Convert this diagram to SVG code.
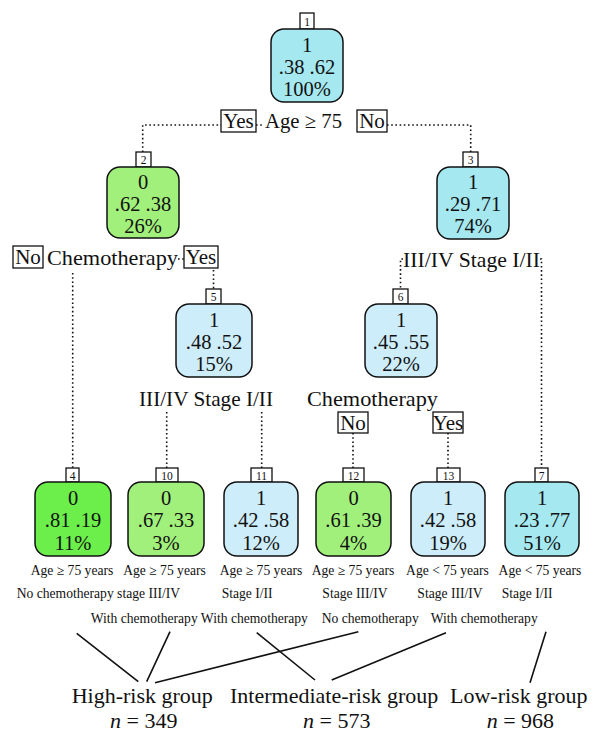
<svg xmlns="http://www.w3.org/2000/svg" width="600" height="743" viewBox="0 0 600 743">
<style>
text{font-family:"Liberation Serif","DejaVu Serif",serif;fill:#111}
.nv{font-size:20.5px;text-anchor:middle}
.sp{font-size:21px}
.lb{font-size:11.5px;text-anchor:middle}
.an{font-size:13.6px}
.ac{font-size:13.6px;text-anchor:middle}
.gr{font-size:22px}
.box{fill:#fff;stroke:#111;stroke-width:1.3}
.node{stroke:#111;stroke-width:1.5}
.cy{fill:#a5e8f0}
.lbl{fill:#cdedfa}
.lg{fill:#a2f07c}
.dg{fill:#6cef4a}
.dot{fill:none;stroke:#111;stroke-width:1.6;stroke-dasharray:1.6 2.6}
.sol{fill:none;stroke:#111;stroke-width:1.6}
</style>
<g id="connectors">
<path class="dot" d="M142.7,152 V125 H221 M256,125 H264 M387,125 H470.7 V152"/>
<path class="dot" d="M178,259 H184 M213.5,270 V289 M72.7,273 V468"/>
<path class="dot" d="M403,259 H400.5 V289 M540,259 H541.5 V468"/>
<path class="dot" d="M166.7,412 V468 M261.7,412 V468 M353,433 V468 M448,433 V468"/>
<path class="sol" d="M76.7,633.3 L138.3,681.7 M170,631.7 L146.7,681.7 M155,682.7 L358.3,631.7 M256.7,632.7 L315,680 M331.7,680 L446,632.7 M530,682.7 L546,631.7"/>
</g>
<g id="split1">
<rect class="box" x="221" y="110" width="35" height="22"/><text class="sp" x="238.5" y="128" text-anchor="middle">Yes</text>
<text class="sp" x="265" y="128" textLength="77" lengthAdjust="spacingAndGlyphs">Age ≥ 75</text>
<rect class="box" x="357" y="110" width="30" height="22"/><text class="sp" x="372" y="128" text-anchor="middle">No</text>
</g>
<g id="split2">
<rect class="box" x="13" y="246" width="30" height="22"/><text class="sp" x="28" y="264" text-anchor="middle">No</text>
<text class="sp" x="47" y="265" textLength="131" lengthAdjust="spacingAndGlyphs">Chemotherapy</text>
<rect class="box" x="184" y="246" width="34" height="22"/><text class="sp" x="201" y="264" text-anchor="middle">Yes</text>
</g>
<g id="split3"><text class="sp" x="403" y="266.5" textLength="137" lengthAdjust="spacingAndGlyphs">III/IV Stage I/II</text></g>
<g id="split5"><text class="sp" x="139" y="406" textLength="134" lengthAdjust="spacingAndGlyphs">III/IV Stage I/II</text></g>
<g id="split6">
<text class="sp" x="307" y="406" textLength="131" lengthAdjust="spacingAndGlyphs">Chemotherapy</text>
<rect class="box" x="338" y="412" width="30" height="21"/><text class="sp" x="353" y="429.5" text-anchor="middle">No</text>
<rect class="box" x="433" y="412" width="30" height="21"/><text class="sp" x="448" y="429.5" text-anchor="middle">Yes</text>
</g>
<g id="node1">
<rect class="box" x="300" y="13" width="14" height="16"/><text class="lb" x="307" y="25.5">1</text>
<rect class="node cy" x="271" y="29" width="72" height="73" rx="13"/>
<text class="nv" x="307" y="52">1</text><text class="nv" x="307" y="74">.38 .62</text><text class="nv" x="307" y="96">100%</text>
</g>
<g id="node2">
<rect class="box" x="136" y="152" width="15" height="15"/><text class="lb" x="143.5" y="164">2</text>
<rect class="node lg" x="107" y="167" width="72" height="71" rx="13"/>
<text class="nv" x="143" y="189">0</text><text class="nv" x="143" y="211">.62 .38</text><text class="nv" x="143" y="233">26%</text>
</g>
<g id="node3">
<rect class="box" x="463" y="152" width="15" height="15"/><text class="lb" x="470.5" y="164">3</text>
<rect class="node cy" x="437" y="167" width="72" height="72" rx="13"/>
<text class="nv" x="473" y="189">1</text><text class="nv" x="473" y="211">.29 .71</text><text class="nv" x="473" y="233">74%</text>
</g>
<g id="node5">
<rect class="box" x="206" y="289" width="15" height="15"/><text class="lb" x="213.5" y="301">5</text>
<rect class="node lbl" x="176" y="304" width="76" height="73" rx="13"/>
<text class="nv" x="214" y="327">1</text><text class="nv" x="214" y="349">.48 .52</text><text class="nv" x="214" y="371">15%</text>
</g>
<g id="node6">
<rect class="box" x="393" y="289" width="15" height="15"/><text class="lb" x="400.5" y="301">6</text>
<rect class="node lbl" x="365" y="304" width="72" height="73" rx="13"/>
<text class="nv" x="401" y="327">1</text><text class="nv" x="401" y="349">.45 .55</text><text class="nv" x="401" y="371">22%</text>
</g>
<g id="node4">
<rect class="box" x="66" y="468" width="13" height="14"/><text class="lb" x="72.5" y="479.5">4</text>
<rect class="node dg" x="35" y="482" width="76" height="74" rx="13"/>
<text class="nv" x="73" y="505">0</text><text class="nv" x="73" y="527">.81 .19</text><text class="nv" x="73" y="550">11%</text>
</g>
<g id="node10">
<rect class="box" x="156" y="468" width="22" height="14"/><text class="lb" x="167" y="479.5">10</text>
<rect class="node lg" x="128" y="482" width="76" height="74" rx="13"/>
<text class="nv" x="166" y="505">0</text><text class="nv" x="166" y="527">.67 .33</text><text class="nv" x="166" y="550">3%</text>
</g>
<g id="node11">
<rect class="box" x="251" y="468" width="21" height="14"/><text class="lb" x="261.5" y="479.5">11</text>
<rect class="node lbl" x="224" y="482" width="74" height="74" rx="13"/>
<text class="nv" x="261" y="505">1</text><text class="nv" x="261" y="527">.42 .58</text><text class="nv" x="261" y="550">12%</text>
</g>
<g id="node12">
<rect class="box" x="343" y="468" width="21" height="14"/><text class="lb" x="353.5" y="479.5">12</text>
<rect class="node lg" x="316" y="482" width="75" height="74" rx="13"/>
<text class="nv" x="353.5" y="505">0</text><text class="nv" x="353.5" y="527">.61 .39</text><text class="nv" x="353.5" y="550">4%</text>
</g>
<g id="node13">
<rect class="box" x="437" y="468" width="23" height="14"/><text class="lb" x="448.5" y="479.5">13</text>
<rect class="node lbl" x="411" y="482" width="74" height="74" rx="13"/>
<text class="nv" x="448" y="505">1</text><text class="nv" x="448" y="527">.42 .58</text><text class="nv" x="448" y="550">19%</text>
</g>
<g id="node7">
<rect class="box" x="535" y="468" width="13" height="14"/><text class="lb" x="541.5" y="479.5">7</text>
<rect class="node cy" x="505" y="482" width="74" height="74" rx="13"/>
<text class="nv" x="542" y="505">1</text><text class="nv" x="542" y="527">.23 .77</text><text class="nv" x="542" y="550">51%</text>
</g>
<g id="annotations">
<text class="ac" x="72" y="575">Age ≥ 75 years</text>
<text class="ac" x="164.5" y="575">Age ≥ 75 years</text>
<text class="ac" x="261" y="575">Age ≥ 75 years</text>
<text class="ac" x="353" y="575">Age ≥ 75 years</text>
<text class="ac" x="447.5" y="575">Age &lt; 75 years</text>
<text class="ac" x="540" y="575">Age &lt; 75 years</text>
<text class="an" x="16.7" y="597.5">No chemotherapy stage III/IV</text>
<text class="an" x="221.7" y="597.5">Stage I/II</text>
<text class="ac" x="355" y="597.5">Stage III/IV</text>
<text class="ac" x="450" y="597.5">Stage III/IV</text>
<text class="an" x="501.7" y="597.5">Stage I/II</text>
<text class="an" x="90.7" y="622.5">With chemotherapy With chemotherapy</text>
<text class="an" x="321.7" y="622.5">No chemotherapy</text>
<text class="an" x="430.7" y="622.5">With chemotherapy</text>
</g>
<g id="groups">
<text class="gr" x="71.7" y="703">High-risk group</text>
<text class="gr" x="110" y="728"><tspan font-style="italic">n</tspan> = 349</text>
<text class="gr" x="230" y="703">Intermediate-risk group</text>
<text class="gr" x="303" y="728"><tspan font-style="italic">n</tspan> = 573</text>
<text class="gr" x="450" y="703">Low-risk group</text>
<text class="gr" x="486.7" y="728"><tspan font-style="italic">n</tspan> = 968</text>
</g>
</svg>
